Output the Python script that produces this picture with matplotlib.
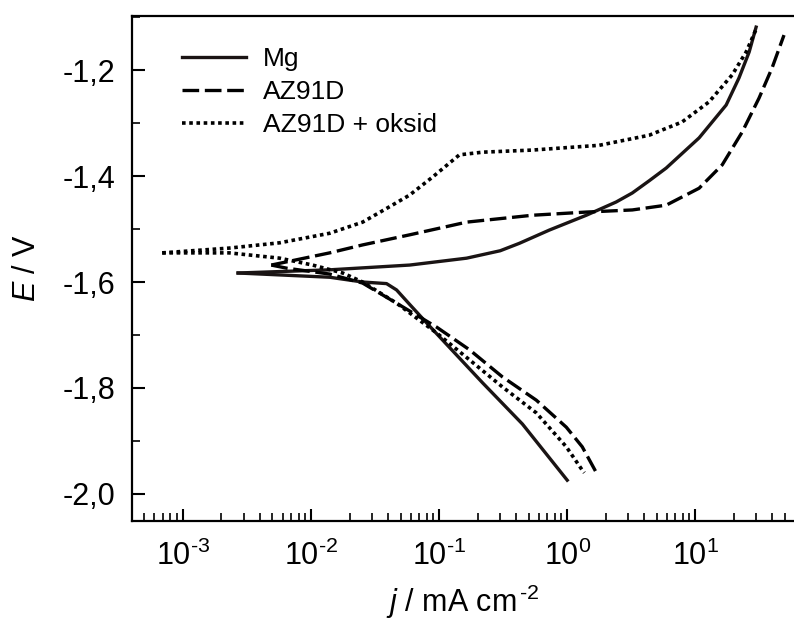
import numpy as np
import matplotlib
matplotlib.use("Agg")
import matplotlib.pyplot as plt
from matplotlib.ticker import LogLocator, MultipleLocator, FuncFormatter

plt.rcParams["font.family"] = ["Liberation Sans", "DejaVu Sans"]
plt.rcParams["mathtext.fontset"] = "custom"
plt.rcParams["mathtext.rm"] = "Liberation Sans"
plt.rcParams["mathtext.it"] = "Liberation Sans:italic"

# Mg
mg_an_j = [2.7e-3, 0.014, 0.059, 0.164, 0.30, 0.423, 0.725, 1.41, 2.41, 3.22, 4.36, 5.92, 10.7, 17.4, 21.9, 26.3, 29.8]
mg_an_E = [-1.583, -1.577, -1.568, -1.555, -1.541, -1.527, -1.502, -1.474, -1.449, -1.432, -1.409, -1.385, -1.328, -1.266, -1.215, -1.166, -1.119]
mg_ca_j = [2.7e-3, 0.014, 0.0253, 0.0389, 0.0466, 0.0588, 0.0841, 0.218, 0.447, 1.0]
mg_ca_E = [-1.583, -1.591, -1.600, -1.603, -1.615, -1.642, -1.683, -1.790, -1.868, -1.974]

# AZ91D
az_an_j = [4.9e-3, 0.014, 0.0253, 0.0588, 0.164, 0.535, 1.41, 3.22, 5.92, 10.7, 16.2, 23.2, 31.4, 39.7, 49.2]
az_an_E = [-1.568, -1.545, -1.530, -1.511, -1.487, -1.474, -1.468, -1.464, -1.455, -1.423, -1.379, -1.317, -1.253, -1.196, -1.134]
az_ca_j = [4.9e-3, 6.5e-3, 0.014, 0.0253, 0.0466, 0.0955, 0.173, 0.312, 0.574, 0.984, 1.31, 1.69]
az_ca_E = [-1.568, -1.574, -1.585, -1.602, -1.640, -1.685, -1.728, -1.779, -1.823, -1.874, -1.911, -1.960]

# AZ91D + oksid
ox_an_j = [6.9e-4, 2.3e-3, 5.7e-3, 0.014, 0.0253, 0.041, 0.0588, 0.0889, 0.144, 0.218, 0.535, 1.78, 4.36, 7.88, 12.8, 19.4, 24.9, 30.3]
ox_an_E = [-1.545, -1.536, -1.526, -1.508, -1.487, -1.458, -1.436, -1.402, -1.360, -1.355, -1.351, -1.342, -1.323, -1.298, -1.260, -1.209, -1.166, -1.119]
ox_ca_j = [6.9e-4, 2.3e-3, 5.7e-3, 0.0103, 0.0177, 0.0253, 0.0466, 0.0955, 0.173, 0.312, 0.574, 0.984, 1.31, 1.36]
ox_ca_E = [-1.545, -1.545, -1.555, -1.568, -1.583, -1.600, -1.640, -1.696, -1.747, -1.798, -1.847, -1.911, -1.955, -1.960]

labels = ["Mg", "AZ91D", "AZ91D + oksid"]

fig = plt.figure(figsize=(7.94, 6.25), dpi=100)
ax = fig.add_axes([0.1662, 0.1664, 0.8338, 0.808])

lw = 2.4
dash = (0, (5.0, 1.7))
dot = (0, (1.0, 1.0))
ax.plot(mg_an_j, mg_an_E, color="#1a1414", lw=lw, ls="-", label=labels[0])
ax.plot(mg_ca_j, mg_ca_E, color="#1a1414", lw=lw, ls="-")
ax.plot(az_an_j, az_an_E, color="black", lw=lw, ls=dash, label=labels[1])
ax.plot(az_ca_j, az_ca_E, color="black", lw=lw, ls=dash)
ax.plot(ox_an_j, ox_an_E, color="black", lw=2.6, ls=dot, label=labels[2])
ax.plot(ox_ca_j, ox_ca_E, color="black", lw=2.6, ls=dot)

ax.set_xscale("log")
ax.set_xlim(10 ** -3.397, 10 ** 1.77)
ax.set_ylim(-2.051, -1.098)

def xfmt(v, p):
    e = int(round(np.log10(v)))
    return r"$\mathregular{10^{%s}}$" % (r"\text{-}%d" % -e if e < 0 else "%d" % e)

ax.xaxis.set_major_locator(LogLocator(base=10, numticks=10))
ax.xaxis.set_minor_locator(LogLocator(base=10, subs=np.arange(2, 10), numticks=20))
ax.xaxis.set_major_formatter(FuncFormatter(xfmt))
ax.yaxis.set_major_locator(MultipleLocator(0.2))
ax.yaxis.set_minor_locator(MultipleLocator(0.1))
ax.yaxis.set_major_formatter(FuncFormatter(lambda v, p: f"{v:.1f}".replace(".", ",")))

ax.tick_params(which="major", direction="in", length=9, width=1.5, labelsize=22)
ax.tick_params(which="minor", direction="in", length=6, width=1.2)
ax.tick_params(axis="y", which="major", pad=12)
ax.tick_params(axis="x", which="major", pad=14)

for s in ["left", "bottom", "top"]:
    ax.spines[s].set_linewidth(1.6)
ax.spines["right"].set_visible(False)

ax.set_xlabel(r"$\mathit{j}$ / mA cm$^{\,\text{-}2}$", fontsize=22, labelpad=8)
ax.set_ylabel(r"$\mathit{E}$ / V", fontsize=22, labelpad=15)

ax.legend(loc="upper left", frameon=False, fontsize=19, handlelength=2.4,
          handletextpad=0.65, labelspacing=0.35, borderaxespad=0,
          bbox_to_anchor=(0.06, 0.96))

fig.savefig("out.png", dpi=100)
